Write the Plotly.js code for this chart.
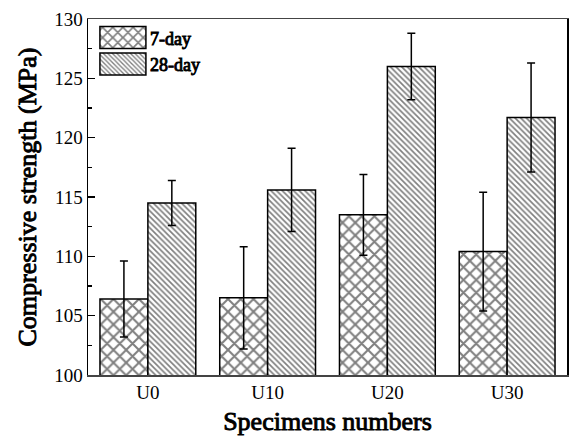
<!DOCTYPE html>
<html>
<head>
<meta charset="utf-8">
<script src="https://cdn.plot.ly/plotly-3.0.1.min.js"></script>
<style>html,body{margin:0;padding:0;background:#fff;overflow:hidden}#chart{width:569px;height:437px}</style>
</head>
<body>
<div id="chart"></div>
<script>
const categories = ["U0", "U10", "U20", "U30"];
const day7 = [106.4, 106.5, 113.5, 110.4];
const day7Err = [3.2, 4.3, 3.4, 5.0];
const day28 = [114.5, 115.6, 126.0, 121.7];
const day28Err = [1.9, 3.5, 2.8, 4.6];
const seriesNames = ["7-day", "28-day"];

const FONT = "Liberation Serif";

const traces = [
  {
    type: "bar", name: seriesNames[0], x: categories, y: day7,
    marker: {color: "white", line: {color: "black", width: 1.5},
      pattern: {shape: "x", fgcolor: "black", bgcolor: "white", size: 9, solidity: 0.4, fillmode: "overlay"}},
    error_y: {type: "data", array: day7Err, visible: true, color: "black", thickness: 1.5, width: 4}
  },
  {
    type: "bar", name: seriesNames[1], x: categories, y: day28,
    marker: {color: "white", line: {color: "black", width: 1.5},
      pattern: {shape: "\\", fgcolor: "black", bgcolor: "white", size: 4, solidity: 0.42, fillmode: "overlay"}},
    error_y: {type: "data", array: day28Err, visible: true, color: "black", thickness: 1.5, width: 4}
  }
];

const layout = {
  width: 569, height: 437,
  margin: {l: 88, r: 2, t: 19, b: 62, autoexpand: false},
  paper_bgcolor: "white", plot_bgcolor: "white",
  barmode: "group", bargap: 0.2, bargroupgap: 0,
  showlegend: true,
  font: {family: FONT, color: "black", size: 17},
  legend: {x: 0.004, y: 0.999, xanchor: "left", yanchor: "top", bgcolor: "rgba(0,0,0,0)",
    font: {family: FONT, size: 18, color: "black"}, itemwidth: 50},
  xaxis: {
    range: [-0.5, 3.5], showline: true, linecolor: "#444", linewidth: 1.5, mirror: true,
    ticks: "", showgrid: false, zeroline: false, automargin: false,
    tickfont: {family: FONT, size: 19, color: "black"},
    title: {text: "Specimens numbers", font: {family: FONT, size: 26, color: "black"}, standoff: 9}
  },
  yaxis: {
    range: [100, 130], dtick: 5, tick0: 100, showline: true, linecolor: "black", linewidth: 1.5, mirror: true,
    ticks: "inside", ticklen: 7, tickwidth: 1.2, tickcolor: "black", showgrid: false, zeroline: false, automargin: false,
    minor: {dtick: 2.5, ticks: "inside", ticklen: 4, tickwidth: 1.2, tickcolor: "black"},
    tickfont: {family: FONT, size: 19, color: "black"},
    title: {text: "Compressive strength (MPa)", font: {family: FONT, size: 26, color: "black"}, standoff: 10}
  }
};

const gd = document.getElementById("chart");
Plotly.newPlot(gd, traces, layout, {displayModeBar: false, staticPlot: true}).then(function () {
  // let wide legend swatches show outside the legend's clip box
  gd.querySelectorAll(".legend .scrollbox").forEach(function (g) { g.removeAttribute("clip-path"); });
  gd.querySelectorAll(".legend .traces").forEach(function (tr) {
    const txt = tr.querySelector(".legendtext");
    const p = tr.querySelector(".legendpoints path");
    if (!txt || !p) return;
    p.setAttribute("d", "M-23,-11H23V11H-23Z");
    p.removeAttribute("transform");
    const pr = p.getBoundingClientRect();
    const tRect = txt.getBoundingClientRect();
    const dx = (tRect.left - 4) - pr.right;
    p.setAttribute("transform", "translate(" + dx + ",0)");
  });
  // faux bold for serif titles and legend text
  gd.querySelectorAll(".xtitle, .ytitle, .legendtext").forEach(function (t) {
    t.style.stroke = "black"; t.style.strokeWidth = "0.9px";
  });
});
</script>
</body>
</html>
